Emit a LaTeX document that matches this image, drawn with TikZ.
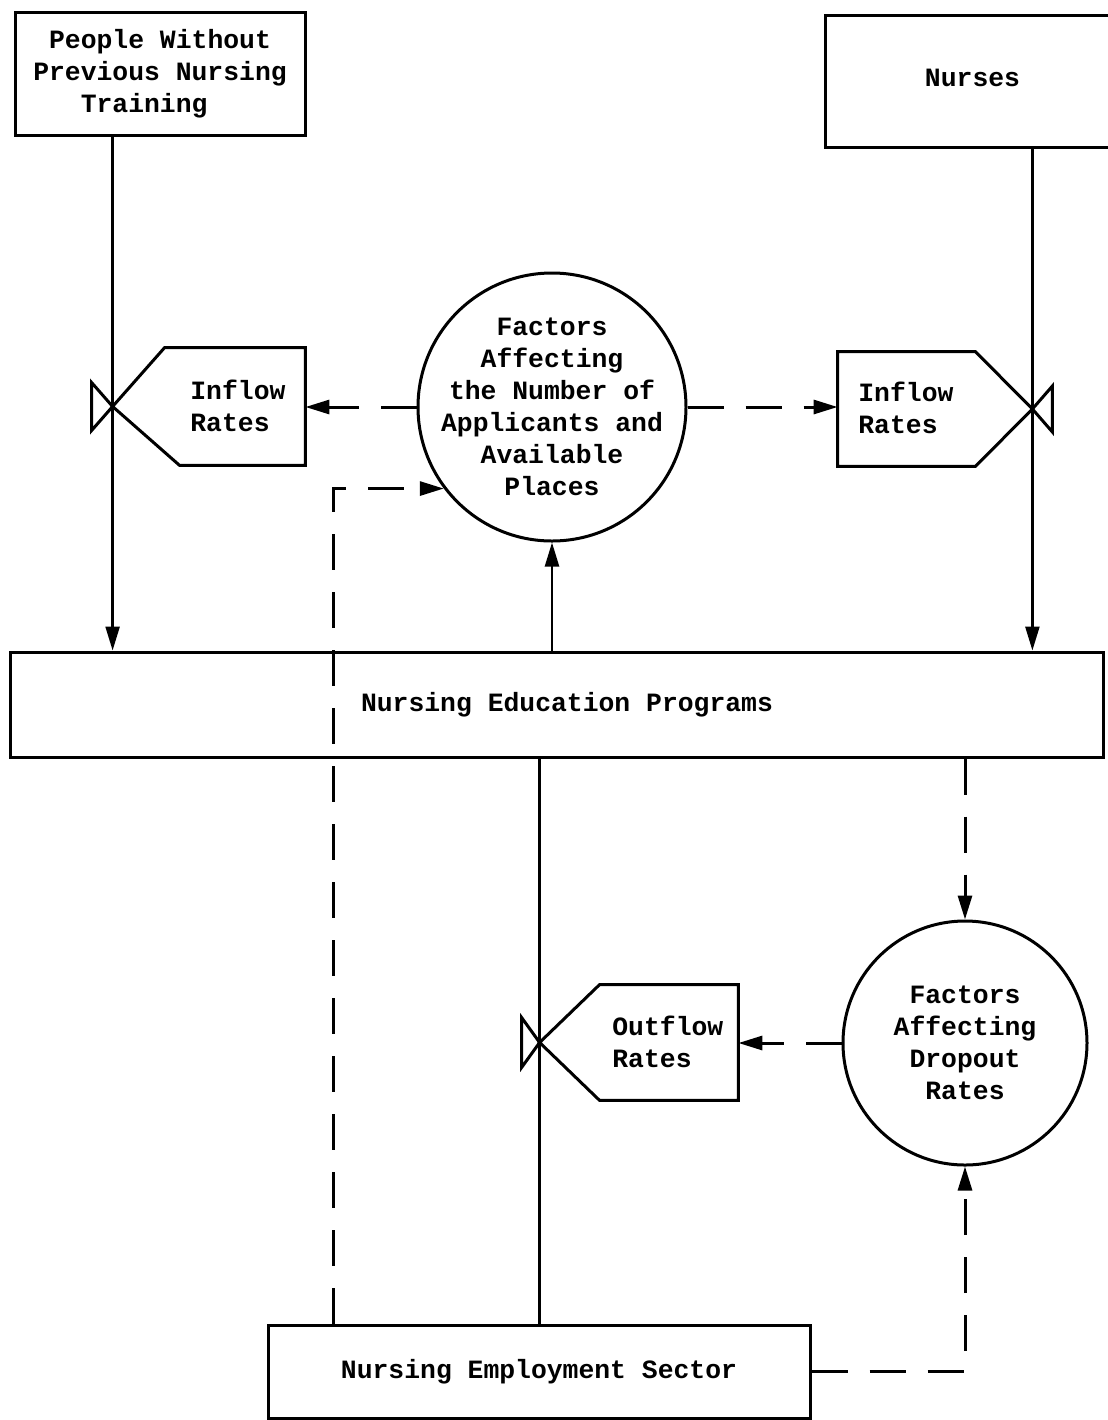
\documentclass[tikz,border=0pt]{standalone}
\usepackage{fontspec}
\setmonofont{Liberation Mono}
\usetikzlibrary{arrows.meta,calc}
\begin{document}
\begin{tikzpicture}[x=0.5pt,y=-0.5pt,
  font=\ttfamily\bfseries\fontsize{13.2}{16}\selectfont,
  box/.style={draw,line width=1.5pt,inner sep=0pt,align=center},
  hold/.style={inner sep=0pt},
  ratetext/.style={inner sep=0pt,align=left,anchor=west},
  factor/.style={draw,circle,line width=1.5pt,inner sep=0pt,align=center},
  flow/.style={line width=1.2pt,-{Triangle[length=12pt,width=7pt]}},
  info/.style={line width=1.5pt,dash pattern=on 18pt off 11pt,-{Triangle[length=12pt,width=7pt]}},
  valve/.style={line width=1.5pt,line join=miter},
]
\useasboundingbox (0,0) rectangle (1108,1420);
\clip (0,0) rectangle (1108,1420);

% stocks
\node[box,align=left,minimum width=145pt,minimum height=61.5pt] (people) at (160,73.5)
  {\phantom{P}People Without\\Previous Nursing\\\phantom{Pre}Training};
\node[box,minimum width=147.5pt,minimum height=66pt] (nurses) at (972.5,81) {\raisebox{3pt}{Nurses}};
\node[box,minimum width=546.5pt,minimum height=52.5pt] (nep) at (556.5,704.5)
  {\hspace*{10.5pt}Nursing Education Programs};
\node[box,minimum width=271pt,minimum height=46.5pt] (emp) at (539,1371.5) {Nursing Employment Sector};

% auxiliary factors
\node[factor,inner sep=-6.5pt,minimum size=134pt] (c1) at (552,407)
  {Factors\\Affecting\\the Number of\\Applicants and\\Available\\Places};
\node[factor,minimum size=122pt] (c2) at (965,1043)
  {Factors\\Affecting\\Dropout\\Rates};

% left inflow rate with its valve
\node[hold,minimum width=96pt,minimum height=58.5pt] (inL) at (209,406.5) {};
\draw[valve] (inL.north east) -- (inL.south east) -- ($(inL.south west)+(67,0)$)
  -- (inL.west) -- ($(inL.north west)+(52,0)$) -- cycle;
\draw[valve] (inL.west) -- ++(-21,-24) -- ++(0,48) -- cycle;
\node[ratetext] (inLt) at (190,406) {Inflow\\Rates};

% right inflow rate with its valve
\node[hold,minimum width=97pt,minimum height=57pt] (inR) at (935,409) {};
\draw[valve] (inR.north west) -- ($(inR.north east)+(-57,0)$) -- (inR.east)
  -- ($(inR.south east)+(-57,0)$) -- (inR.south west) -- cycle;
\draw[valve] (inR.east) -- ++(20,-23) -- ++(0,46) -- cycle;
\node[ratetext] (inRt) at (858,408) {Inflow\\Rates};

% outflow rate with its valve
\node[hold,minimum width=99pt,minimum height=57.5pt] (outR) at (639,1042.5) {};
\draw[valve] (outR.north east) -- (outR.south east) -- ($(outR.south west)+(60,0)$)
  -- (outR.west) -- ($(outR.north west)+(60,0)$) -- cycle;
\draw[valve] (outR.west) -- ++(-18,-25) -- ++(0,50) -- cycle;
\node[ratetext] (outRt) at (612,1042) {Outflow\\Rates};

% material flows
\draw[flow] (people.south -| inL.west) -- (nep.north -| inL.west);
\draw[flow] (nurses.south -| inR.east) -- (nep.north -| inR.east);
\draw[flow] (nep.north -| c1.south) -- (c1.south);
\draw[line width=1.2pt] (nep.south -| outR.west) -- (emp.north -| outR.west);

% information links
\coordinate (tap) at (333,490);
\draw[info] (c1.west) -- (c1.west -| inL.east);
\draw[info] (c1.east) -- (c1.east -| inR.west);
\draw[info] (emp.north -| tap) |- (c1.217);
\draw[info] (nep.south -| c2.north) -- (c2.north);
\draw[info] (c2.west) -- (c2.west -| outR.east);
\draw[info] (emp.east) -| (c2.south);
\end{tikzpicture}
\end{document}
